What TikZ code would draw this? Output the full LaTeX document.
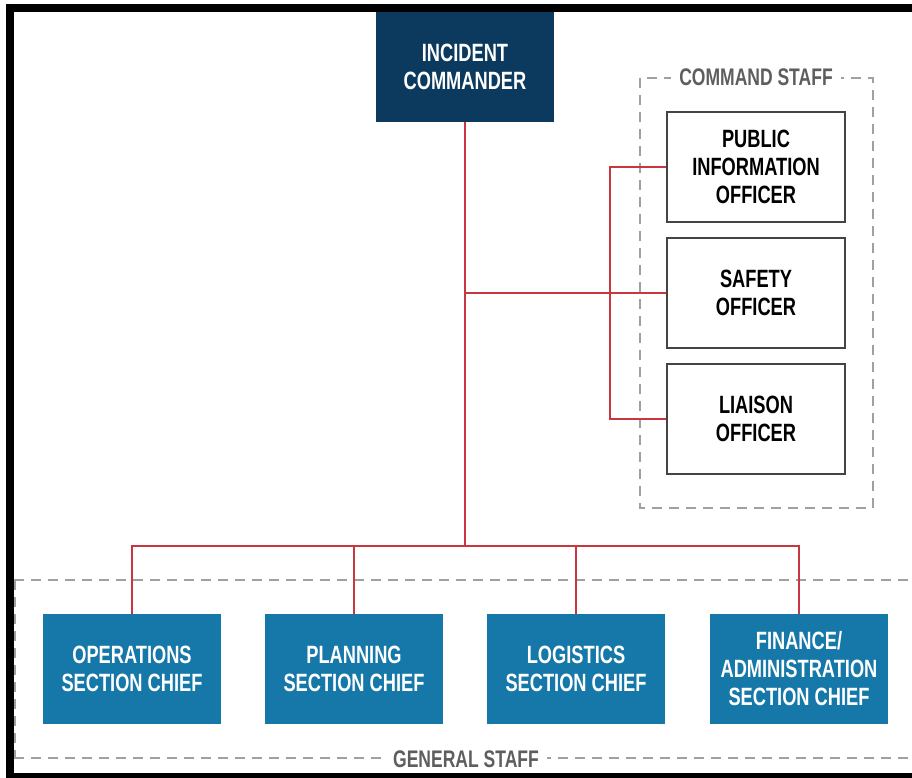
\documentclass[tikz,border=0pt]{standalone}
\usepackage{fontspec}
\setmainfont{Liberation Sans}[FakeStretch=0.73]
\begin{document}
\begin{tikzpicture}[x=1pt,y=-1pt,
  every node/.style={font=\fontsize{25}{28}\selectfont\bfseries, align=center, inner sep=0pt},
  navybox/.style={fill=icnavy, minimum width=178pt, minimum height=110pt, text=white},
  bluebox/.style={fill=gsblue, minimum width=178pt, minimum height=110pt, text=white},
  cmdbox/.style={draw=boxgray, line width=1.2pt, fill=white, minimum width=178pt, minimum height=110pt, text=black},
  link/.style={draw=linkred, line width=2pt},
  staffline/.style={draw=dashgray, line width=1.2pt, dash pattern=on 10pt off 7pt},
  stafflabel/.style={font=\fontsize{24}{28}\selectfont\bfseries, text=labelgray, fill=white, inner xsep=8pt, inner ysep=2pt}
]
\definecolor{icnavy}{HTML}{0C3A5E}
\definecolor{gsblue}{HTML}{1578A8}
\definecolor{boxgray}{HTML}{444444}
\definecolor{linkred}{HTML}{C8363F}
\definecolor{dashgray}{HTML}{A0A0A0}
\definecolor{labelgray}{HTML}{5E5E5E}
\useasboundingbox (0,0) rectangle (912,778);
\fill[white] (0,0) rectangle (912,778);
% frame
\fill[black] (6,4) rectangle (912,12);
\fill[black] (6,4) rectangle (14,778);
\fill[black] (6,773) rectangle (912,778);

% command staff group
\draw[staffline] (640,78) rectangle (873,508);
\node[stafflabel] (cslabel) at (756,77) {COMMAND STAFF};

% general staff band
\draw[staffline] (14,580) -- (912,580);
\draw[staffline] (15,580) -- (15,758);
\draw[staffline] (14,758) -- (912,758);
\node[stafflabel] (gslabel) at (466,759) {GENERAL STAFF};

% nodes
\node[navybox] (ic) at (465,67) {INCIDENT\\COMMANDER};
\node[cmdbox] (pio) at (756,167) {PUBLIC\\INFORMATION\\OFFICER};
\node[cmdbox] (so) at (756,293) {SAFETY\\OFFICER};
\node[cmdbox] (lo) at (756,419) {LIAISON\\OFFICER};
\node[bluebox] (ops) at (132,669) {OPERATIONS\\SECTION CHIEF};
\node[bluebox] (plan) at (354,669) {PLANNING\\SECTION CHIEF};
\node[bluebox] (log) at (576,669) {LOGISTICS\\SECTION CHIEF};
\node[bluebox] (fin) at (799,669) {FINANCE/\\ADMINISTRATION\\SECTION CHIEF};

% connectors
\coordinate (bus) at (465,546);
\coordinate (cmdj) at (465,293);
\coordinate (spine) at (610,293);
\draw[link] (ic.south) -- (bus);
\draw[link] (cmdj) -- (so.west);
\draw[link] (pio.west) -- (pio.west -| spine) -- (lo.west -| spine) -- (lo.west);
\draw[link] (ops.north) -- (ops.north |- bus) -- (fin.north |- bus) -- (fin.north);
\draw[link] (plan.north) -- (plan.north |- bus);
\draw[link] (log.north) -- (log.north |- bus);
\end{tikzpicture}
\end{document}
